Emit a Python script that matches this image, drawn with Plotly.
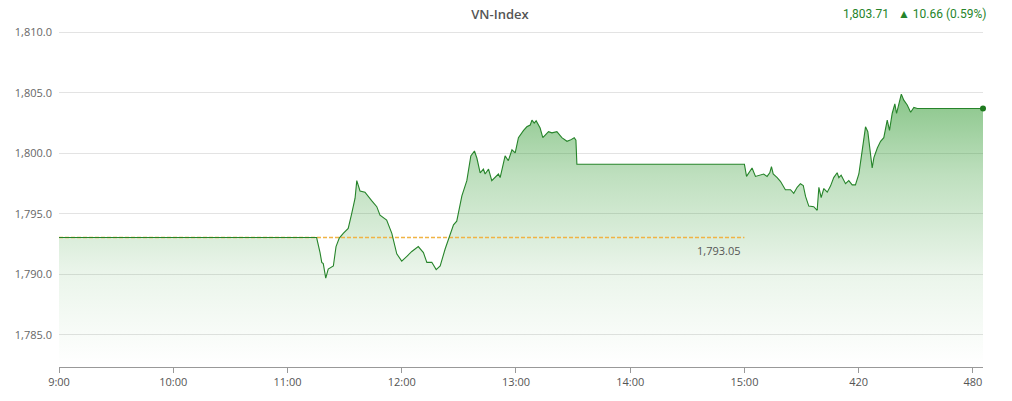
import plotly.graph_objects as go

# minutes after 9:00 and index value
minutes = [0, 135.3, 137.1, 138.0, 138.8, 140.1, 141.4, 144.1, 145.5, 147.2, 149.3,
           151.9, 153.7, 155.5, 156.4, 158.1, 160.7, 162.5, 164.2, 166.9, 168.6,
           172.1, 174.8, 177.4, 180.0, 182.7, 185.3, 188.7, 191.4, 193.2, 195.8,
           198.1, 200.2, 202.8, 205.4, 207.2, 208.9, 211.6, 214.2, 216.3, 218.2,
           219.5, 221.2, 222.9, 223.8, 225.6, 227.3, 229.1, 230.8, 231.7, 234.3,
           236.0, 237.9, 239.6, 241.3, 244.0, 245.7, 247.5, 248.4, 249.6, 250.6,
           252.7, 254.1, 257.1, 258.9, 261.5, 264.1, 266.8, 268.5, 270.6, 271.5,
           272.0, 360.0, 361.1, 362.3, 364.0, 365.8, 368.4, 370.1, 371.9, 373.3,
           374.2, 375.1, 377.2, 378.9, 381.5, 384.2, 385.9, 387.7, 389.4, 390.9,
           392.1, 393.8, 396.4, 398.2, 399.1, 400.3, 401.7, 403.5, 405.2, 406.9,
           408.7, 409.6, 410.8, 413.1, 414.8, 416.6, 418.3, 420.1, 421.9, 423.6,
           424.8, 426.3, 427.1, 428.0, 429.8, 431.5, 433.2, 435.0, 436.2, 437.6,
           439.0, 439.9, 441.1, 442.4, 443.7, 445.5, 447.3, 449.0, 450.8, 485.3]
index_vals = [1793.05, 1793.05, 1791.8, 1791.0, 1790.9, 1789.7, 1790.45, 1790.7, 1792.3, 1793.0, 1793.4,
              1793.8, 1795.0, 1796.3, 1797.75, 1796.9, 1796.8, 1796.4, 1796.1, 1795.6, 1794.9,
              1794.5, 1793.4, 1791.7, 1791.1, 1791.5, 1791.9, 1792.3, 1791.8, 1791.0, 1791.0,
              1790.4, 1790.7, 1792.1, 1793.2, 1794.1, 1794.4, 1796.5, 1797.75, 1799.8, 1800.2,
              1799.6, 1798.4, 1798.7, 1798.3, 1798.7, 1797.75, 1798.0, 1798.3, 1798.0, 1799.8,
              1799.4, 1800.3, 1800.05, 1801.3, 1801.9, 1802.2, 1802.35, 1802.75, 1802.5, 1802.7,
              1802.1, 1801.3, 1801.8, 1801.7, 1801.8, 1801.3, 1801.0, 1801.1, 1801.3, 1801.1,
              1799.1, 1799.1, 1798.1, 1798.4, 1798.8, 1798.1, 1798.2, 1798.3, 1798.1, 1798.4,
              1798.9, 1798.3, 1798.0, 1797.7, 1797.0, 1797.0, 1796.7, 1797.2, 1797.5, 1797.35,
              1796.45, 1795.65, 1795.6, 1795.3, 1797.2, 1796.35, 1797.1, 1796.8, 1797.3, 1798.0,
              1798.4, 1798.0, 1798.2, 1797.5, 1797.75, 1797.4, 1797.4, 1798.3, 1800.3, 1802.2,
              1801.8, 1799.9, 1798.8, 1799.65, 1800.45, 1801.0, 1801.3, 1802.75, 1801.9, 1803.3,
              1804.1, 1803.3, 1804.1, 1804.9, 1804.4, 1804.0, 1803.4, 1803.8, 1803.71, 1803.71]

ref_value = 1793.05
ref_x = [0, 360]
tick_vals = [0, 60, 120, 180, 240, 300, 360, 420, 480]
tick_text = ['9:00', '10:00', '11:00', '12:00', '13:00', '14:00', '15:00', '420', '480']

fig = go.Figure()

# gradient area only
fig.add_trace(go.Scatter(
    x=minutes, y=index_vals,
    mode='lines',
    line=dict(width=0, color='rgba(0,0,0,0)'),
    fill='tozeroy',
    fillgradient=dict(
        type='vertical',
        start=1783, stop=1805,
        colorscale=[[0, 'rgba(40,150,40,0)'], [0.35, 'rgba(40,150,40,0.1)'],
                    [0.7, 'rgba(40,150,40,0.3)'], [1, 'rgba(40,150,40,0.55)']],
    ),
    hoverinfo='skip',
    showlegend=False,
))

# previous close, dashed: above the area, under the index line
fig.add_trace(go.Scatter(
    x=ref_x, y=[ref_value, ref_value],
    mode='lines',
    line=dict(color='#f0b445', width=1.3, dash='4px,2px'),
    showlegend=False,
))

fig.add_trace(go.Scatter(
    x=minutes, y=index_vals,
    mode='lines',
    line=dict(color='#26842a', width=1.1),
    showlegend=False,
))

fig.add_trace(go.Scatter(
    x=[minutes[-1]], y=[index_vals[-1]],
    mode='markers',
    marker=dict(color='#1f7a1f', size=6),
    cliponaxis=False,
    showlegend=False,
))

fig.update_layout(
    width=1012, height=401,
    margin=dict(l=59, r=29, t=30, b=28),
    plot_bgcolor='white',
    paper_bgcolor='white',
    font=dict(family='Open Sans', size=11, color='#555'),
    title=dict(text='VN-Index', x=0.494, xanchor='center', y=0.965, yanchor='middle',
               font=dict(family='Open Sans', size=13, color='#555', weight=600)),
    annotations=[
        dict(xref='paper', yref='paper', x=1.005, y=1.047, xanchor='right', yanchor='middle',
             showarrow=False, text='1,803.71&nbsp;&nbsp;&nbsp;▲ 10.66 (0.59%)',
             font=dict(family='Roboto', size=12, color='#26842a')),
        dict(x=ref_x[1], y=ref_value, xanchor='right', yanchor='top', yshift=-3, xshift=-2,
             showarrow=False, text='{:,.2f}'.format(ref_value),
             font=dict(family='Open Sans', size=11, color='#555')),
    ],
)

fig.update_xaxes(
    range=[0, 485.3],
    tickvals=tick_vals, ticktext=tick_text,
    showgrid=False, zeroline=False,
    showline=True, linecolor='#999', linewidth=1,
    ticks='outside', ticklen=5, tickcolor='#999',
    tickfont=dict(size=11, color='#555'),
)
fig.update_yaxes(
    range=[1782.35, 1810.2],
    dtick=5, tick0=1785,
    tickformat=',.1f',
    showgrid=True, gridcolor='#e3e3e3', gridwidth=1,
    zeroline=False, showline=False,
    ticks='', ticklabelstandoff=6,
    tickfont=dict(size=11, color='#666'),
)

config = {'displayModeBar': False}
fig.write_html('out.html', config=config, post_script="document.body.style.margin='0';")
